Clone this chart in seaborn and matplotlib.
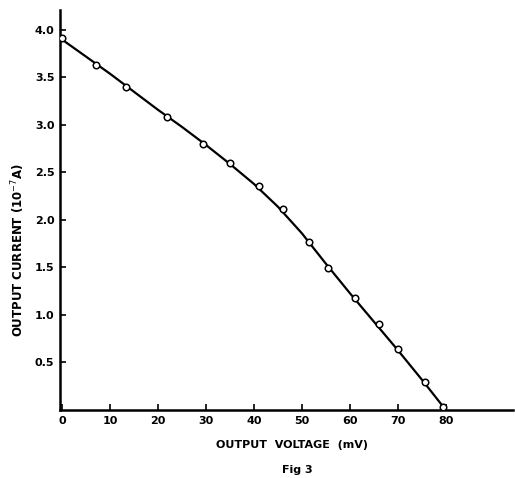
import matplotlib
matplotlib.use("Agg")
import matplotlib.pyplot as plt
import seaborn as sns
import pandas as pd

# measured points
voltage_mv = [0, 7, 13.3, 22, 29.5, 35, 41, 46, 51.5, 55.5, 61, 66, 70, 75.6, 79.5]
current = [3.92, 3.63, 3.40, 3.08, 2.80, 2.60, 2.36, 2.12, 1.77, 1.49, 1.18, 0.91, 0.64, 0.29, 0.03]

# smooth drawn curve
curve_x = [0, 5, 10, 15, 20, 25, 30, 35, 40, 45, 50, 55, 60, 65, 70, 75, 80]
curve_y = [3.90, 3.72, 3.54, 3.35, 3.16, 2.98, 2.79, 2.59, 2.38, 2.14, 1.86, 1.54, 1.23, 0.93, 0.63, 0.32, 0.0]

xticks = [0, 10, 20, 30, 40, 50, 60, 70, 80]
yticks = [0.5, 1.0, 1.5, 2.0, 2.5, 3.0, 3.5, 4.0]
yticklabels = ["0.5", "1.0", "1.5", "2.0", "2.5", "3.0", "3.5", "4.0"]

sns.set_style("ticks")
plt.rcParams['font.family'] = ['DejaVu Sans']

fig = plt.figure(figsize=(5.15, 4.78), dpi=100)
ax = fig.add_axes([60/515, 1 - 410/478, (513 - 60)/515, 400/478])

pts = pd.DataFrame({"v": voltage_mv, "i": current})
crv = pd.DataFrame({"v": curve_x, "i": curve_y})

sns.lineplot(data=crv, x="v", y="i", ax=ax, color="black", linewidth=1.6, sort=False)
sns.scatterplot(data=pts, x="v", y="i", ax=ax, marker="o", s=22,
                facecolor="white", edgecolor="black", linewidth=1.1, zorder=3)

ax.set_xlim(-0.4, 94)
ax.set_ylim(0, 4.21)
ax.set_xticks(xticks)
ax.set_xticklabels([str(t) for t in xticks], fontsize=8, fontweight="bold")
ax.set_yticks(yticks)
ax.set_yticklabels(yticklabels, fontsize=8, fontweight="bold")
ax.tick_params(axis="both", direction="in", length=4, width=1.2, colors="black", pad=4)
for s in ["top", "right"]:
    ax.spines[s].set_visible(False)
for s in ["left", "bottom"]:
    ax.spines[s].set_linewidth(1.8)
    ax.spines[s].set_color("black")

ax.set_xlabel("OUTPUT  VOLTAGE  (mV)", fontsize=8, fontweight="bold", color="black")
ax.set_ylabel("OUTPUT CURRENT (10$^{-7}$A)", fontsize=8.5, fontweight="bold", color="black")
ax.xaxis.set_label_coords(0.512, -0.075)
ax.yaxis.set_label_coords(-0.072, 0.40)
fig.text(297/515, 1 - 470/478, "Fig 3", fontsize=8, fontweight="bold", ha="center", va="center", color="black")

fig.savefig("out.png", dpi=100, facecolor="white")
